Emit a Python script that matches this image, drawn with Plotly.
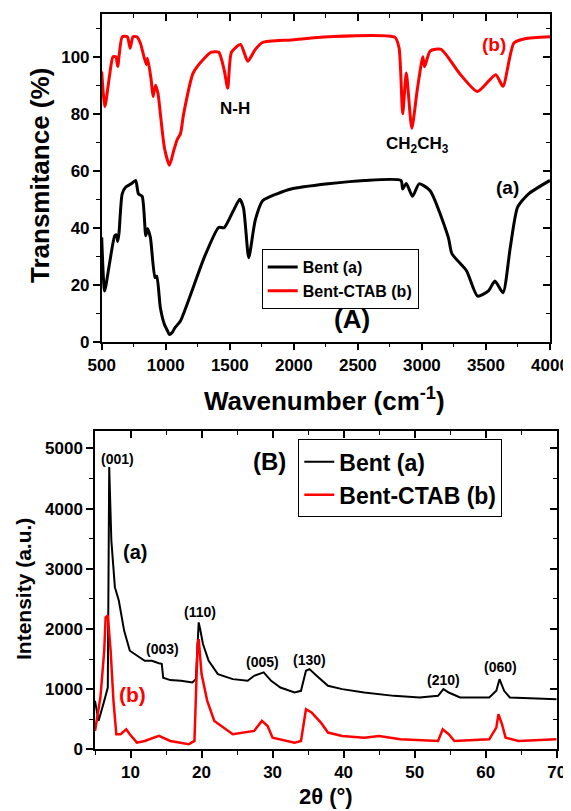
import plotly.graph_objects as go

# ---------------- FTIR data ----------------
bent_wn = [500, 523, 560, 602, 615, 625, 635, 660, 688, 730, 765, 787, 816, 844, 858, 880, 916, 930, 958, 990,
           1015, 1029, 1050, 1072, 1115, 1186, 1300, 1413, 1456, 1527, 1578, 1607, 1648, 1698, 1755, 1869, 1979,
           2267, 2551, 2836, 2850, 2878, 2927, 2978, 3064, 3206, 3235, 3348, 3434, 3519, 3570, 3633, 3690, 3747,
           3833, 4000]
bent_T = [36.6, 17.8, 27.2, 37.2, 37.5, 35.2, 38.0, 51.9, 54.3, 55.4, 56.6, 51.9, 51.0, 37.2, 39.6, 36.6, 22.5,
          23.0, 11.9, 6.0, 3.7, 2.5, 3.2, 4.9, 7.3, 15.5, 29.5, 40.1, 40.0, 45.9, 50.0, 47.0, 29.5, 42.5, 49.4,
          51.9, 53.6, 55.4, 56.6, 56.6, 53.6, 55.5, 51.0, 55.4, 53.0, 36.6, 30.8, 24.9, 16.0, 17.8, 21.3, 17.2,
          33.1, 47.2, 51.9, 56.6]

ctab_wn = [500, 525, 560, 588, 611, 625, 660, 700, 722, 745, 774, 801, 848, 858, 886, 901, 920, 940, 958, 990,
           1029, 1062, 1090, 1115, 1140, 1214, 1300, 1357, 1414, 1456, 1484, 1513, 1584, 1641, 1698, 1755, 1979,
           2267, 2790, 2822, 2850, 2878, 2921, 2964, 3007, 3021, 3064, 3150, 3291, 3434, 3576, 3633, 3718, 3804,
           4000]
ctab_T = [94.8, 82.5, 93.0, 100.0, 100.0, 96.6, 107.0, 107.0, 103.0, 107.0, 107.0, 104.9, 97.2, 99.5, 92.0, 86.0,
          90.0, 87.0, 80.0, 68.0, 61.9, 67.0, 71.0, 73.0, 80.0, 94.3, 99.4, 101.6, 101.6, 95.4, 89.0, 101.6, 104.3,
          98.4, 102.5, 105.0, 105.9, 107.0, 106.8, 103.0, 80.0, 94.3, 74.9, 88.5, 100.0, 96.5, 102.0, 102.6, 94.3,
          87.8, 93.7, 89.6, 104.8, 106.3, 107.0]

# ---------------- XRD data ----------------
xrd_bent_2t = [5.0, 5.5, 6.3, 6.8, 7.0, 7.3, 7.8, 8.35, 9.1, 9.9, 12.0, 13.0, 14.0, 14.4, 14.6, 15.6, 17.1, 18.7,
               19.2, 19.6, 19.8, 20.2, 21.0, 22.3, 24.4, 26.5, 27.4, 28.75, 29.8, 31.1, 33.1, 34.0, 34.7, 35.2,
               36.2, 37.8, 39.8, 42.9, 47.1, 50.7, 53.3, 54.05, 54.8, 56.4, 60.5, 61.5, 61.95, 62.6, 63.4, 70.0]
xrd_bent_I = [805, 472, 805, 1027, 4690, 3472, 2694, 2472, 1972, 1638, 1472, 1472, 1430, 1420, 1190, 1150, 1138,
              1111, 1166, 2110, 2000, 1750, 1472, 1250, 1166, 1138, 1222, 1278, 1138, 1027, 944, 972, 1305, 1333,
              1222, 1055, 1000, 944, 888, 861, 888, 1000, 944, 861, 861, 972, 1166, 972, 861, 833]

xrd_ctab_2t = [5.0, 5.76, 6.3, 6.5, 6.8, 7.2, 7.6, 8.0, 8.6, 9.4, 9.9, 10.9, 12.0, 14.0, 15.6, 18.2, 19.0, 19.45,
               19.6, 20.0, 20.8, 21.8, 24.4, 27.4, 28.5, 29.3, 30.0, 33.1, 34.0, 34.7, 35.5, 36.8, 37.8, 39.8, 42.9,
               45.0, 48.0, 53.3, 53.95, 54.8, 55.6, 60.5, 61.5, 61.8, 62.3, 62.8, 64.6, 70.0]
xrd_ctab_I = [305, 861, 1638, 2194, 2222, 1638, 805, 250, 250, 333, 250, 111, 139, 222, 139, 83, 139, 1750, 1833,
              1250, 805, 472, 250, 305, 472, 388, 194, 111, 139, 666, 611, 444, 278, 222, 194, 222, 166, 139, 333,
              250, 139, 166, 361, 583, 416, 194, 139, 166]

OFF = 8  # page body margin
W, H = 571 - OFF, 811 - OFF
FONT = "Liberation Sans, Arial, sans-serif"

def px_x(p):
    return (p - OFF) / W

def px_y(p):
    return 1 - (p - OFF) / H

top_dom_x = [px_x(101.7), px_x(550)]
top_dom_y = [px_y(341.7), px_y(14)]
bot_dom_x = [px_x(95), px_x(556.7)]
bot_dom_y = [px_y(749.3), px_y(431)]

fig = go.Figure()

fig.add_trace(go.Scatter(x=bent_wn, y=bent_T, mode="lines", name="Bent (a)",
                         line=dict(color="black", width=3, shape="spline", smoothing=0.6),
                         xaxis="x", yaxis="y", legend="legend"))
fig.add_trace(go.Scatter(x=ctab_wn, y=ctab_T, mode="lines", name="Bent-CTAB (b)",
                         line=dict(color="#ff0000", width=3, shape="spline", smoothing=0.6),
                         xaxis="x", yaxis="y", legend="legend"))

fig.add_trace(go.Scatter(x=xrd_bent_2t, y=xrd_bent_I, mode="lines", name="Bent (a)",
                         line=dict(color="black", width=2),
                         xaxis="x2", yaxis="y2", legend="legend2"))
fig.add_trace(go.Scatter(x=xrd_ctab_2t, y=xrd_ctab_I, mode="lines", name="Bent-CTAB (b)",
                         line=dict(color="#ff0000", width=2.5),
                         xaxis="x2", yaxis="y2", legend="legend2"))

# helper invisible traces to show mirrored (inside-tick) axes
for xa, ya in [("x3", "y"), ("x", "y3"), ("x4", "y2"), ("x2", "y4")]:
    fig.add_trace(go.Scatter(x=[None], y=[None], mode="lines", xaxis=xa, yaxis=ya,
                             showlegend=False, hoverinfo="skip"))

tickfont_top = dict(family=FONT, size=17, color="black", weight="bold")
tickfont_bot = dict(family=FONT, size=17, color="black", weight="bold")

common = dict(showline=True, linecolor="black", linewidth=1.5, showgrid=False, zeroline=False,
              ticklen=7, tickwidth=1.5, tickcolor="black", automargin=False)
bold = dict(tickprefix="<b>", ticksuffix="</b>")

def minor(ticks, dtick, tick0):
    return dict(ticks=ticks, dtick=dtick, tick0=tick0, ticklen=4, tickwidth=1.2, tickcolor="black")

fig.update_layout(
    template="none",
    width=W, height=H, margin=dict(l=0, r=0, t=0, b=0, pad=0),
    paper_bgcolor="white", plot_bgcolor="white",
    font=dict(family=FONT, color="black", weight="bold"),
    xaxis=dict(domain=top_dom_x, anchor="y", range=[500, 4000], ticks="outside", dtick=500, tick0=500,
               tickfont=tickfont_top, **bold, minor=minor("outside", 250, 500), **common),
    yaxis=dict(domain=top_dom_y, anchor="x", range=[0, 115], ticks="outside", dtick=20, tick0=0,
               tickfont=tickfont_top, **bold, minor=minor("outside", 10, 0), **common),
    xaxis3=dict(overlaying="x", side="top", anchor="y", range=[500, 4000], ticks="inside", dtick=500,
                tick0=500, showticklabels=False, minor=minor("inside", 250, 500), **common),
    yaxis3=dict(overlaying="y", side="right", anchor="x", range=[0, 115], ticks="inside", dtick=20, tick0=0,
                showticklabels=False, minor=minor("inside", 10, 0), **common),
    xaxis2=dict(domain=bot_dom_x, anchor="y2", range=[5, 70], ticks="outside", dtick=10, tick0=0,
                tickfont=tickfont_bot, **bold, minor=minor("outside", 5, 0), **common),
    yaxis2=dict(domain=bot_dom_y, anchor="x2", range=[0, 5290], ticks="outside", dtick=1000, tick0=0,
                tickfont=tickfont_bot, **bold, minor=minor("outside", 500, 0), **common),
    xaxis4=dict(overlaying="x2", side="top", anchor="y2", range=[5, 70], ticks="inside", dtick=10, tick0=0,
                showticklabels=False, minor=minor("inside", 5, 0), **common),
    yaxis4=dict(overlaying="y2", side="right", anchor="x2", range=[0, 5290], ticks="inside", dtick=1000,
                tick0=0, showticklabels=False, minor=minor("inside", 500, 0), **common),
    legend=dict(x=px_x(261.7), y=px_y(249), xanchor="left", yanchor="top", bgcolor="white",
                bordercolor="black", borderwidth=1, font=dict(family=FONT, size=16, color="black", weight="bold"),
                tracegroupgap=0),
    legend2=dict(x=px_x(298.3), y=px_y(439.3), xanchor="left", yanchor="top", bgcolor="white",
                 bordercolor="black", borderwidth=1, font=dict(family=FONT, size=23, color="black", weight="bold"),
                 tracegroupgap=0),
    showlegend=True,
)

def ann(text, x, y, size, color="black", xref="x", yref="y", **kw):
    fig.add_annotation(text="<b>" + text + "</b>", x=x, y=y, xref=xref, yref=yref, showarrow=False,
                       xanchor="center", yanchor="middle",
                       font=dict(family=FONT, size=size, color=color, weight="bold"), **kw)

# FTIR annotations
ann("(b)", 3565, 104.3, 19, color="#ff0000")
ann("(a)", 3667, 54.1, 19)
ann("N-H", 1541, 82, 17)
ann("CH<sub>2</sub>CH<sub>3</sub>", 2965, 69, 17)
ann("(A)", 2455, 7.8, 26)

# XRD annotations
ann("(001)", 8.1, 4817, 14, xref="x2", yref="y2")
ann("(a)", 10.6, 3277, 20, xref="x2", yref="y2")
ann("(B)", 29.6, 4777, 24, xref="x2", yref="y2")
ann("(110)", 19.8, 2277, 14, xref="x2", yref="y2")
ann("(003)", 14.5, 1667, 14, xref="x2", yref="y2")
ann("(005)", 28.6, 1443, 14, xref="x2", yref="y2")
ann("(130)", 35.2, 1483, 14, xref="x2", yref="y2")
ann("(210)", 54.1, 1155, 14, xref="x2", yref="y2")
ann("(060)", 62.05, 1360, 14, xref="x2", yref="y2")
ann("(b)", 10.3, 916, 21, color="#ff0000", xref="x2", yref="y2")

# axis titles
ann("Wavenumber (cm<sup>-1</sup>)", px_x(324), px_y(400), 26, xref="paper", yref="paper")
ann("Transmitance (%)", px_x(40), px_y(176), 26, xref="paper", yref="paper", textangle=-90)
ann("2θ (°)", px_x(326), px_y(796), 22, xref="paper", yref="paper")
ann("Intensity (a.u.)", px_x(23), px_y(589), 21, xref="paper", yref="paper", textangle=-90)

fig.write_html("out.html")
